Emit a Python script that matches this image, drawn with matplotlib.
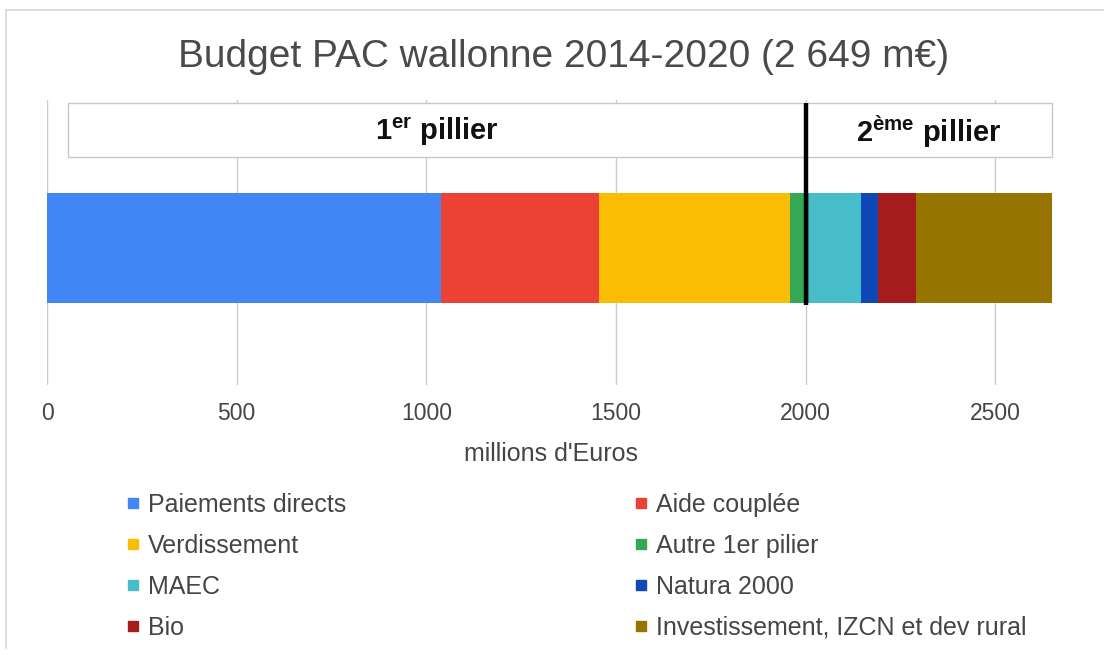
import matplotlib
matplotlib.use("Agg")
import matplotlib.pyplot as plt
from matplotlib.patches import Rectangle
from matplotlib.lines import Line2D

plt.rcParams['font.family'] = ['Liberation Sans', 'DejaVu Sans']
plt.rcParams['mathtext.fontset'] = 'custom'
plt.rcParams['mathtext.rm'] = 'Liberation Sans'
plt.rcParams['mathtext.bf'] = 'Liberation Sans:bold'

# budget per poste, millions d'euros
postes = ["Paiements directs", "Aide couplée", "Verdissement", "Autre 1er pilier",
          "MAEC", "Natura 2000", "Bio", "Investissement, IZCN et dev rural"]
valeurs = [1040, 415, 505, 50, 136, 44, 100, 359]
couleurs = ["#4285f4", "#ea4335", "#fbbc04", "#34a853",
            "#48bcc8", "#0d47b8", "#a61c1c", "#977300"]
ticks = [0, 500, 1000, 1500, 2000, 2500]
limite_pilier = 2000
piliers = [r"1$^{\mathbf{er}}$ pillier", r"2$^{\mathbf{ème}}$ pillier"]

txt = "#454545"

fig = plt.figure(figsize=(11.04, 6.55), dpi=100)
ax = fig.add_axes([47/1104, 1-385/655, 1009/1104, 285/655])

left = 0
for v, c, p in zip(valeurs, couleurs, postes):
    ax.barh(0.481, v, height=0.386, left=left, color=c, label=p, zorder=2)
    left += v

ax.set_xlim(0, 2660)
ax.set_ylim(0, 1)
ax.set_xticks(ticks)
ax.set_xticklabels([str(t) for t in ticks])
ax.set_yticks([])
ax.grid(axis='x', color='#cccccc', linewidth=1, zorder=0)
for s in ax.spines.values():
    s.set_visible(False)
ax.tick_params(axis='x', length=0, pad=12.5, labelsize=16.5, labelcolor=txt)
ax.set_xlabel("millions d'Euros", fontsize=18, color=txt, labelpad=12)

# boites des piliers
tr = ax.get_xaxis_transform()
x0 = (68 - 47) / 0.3794
x1 = (1052 - 47) / 0.3794
ax.add_patch(Rectangle((x0, 0.80), limite_pilier - x0, 0.19, transform=tr,
                       facecolor='white', edgecolor='#c8c8c8', lw=1, zorder=3))
ax.add_patch(Rectangle((limite_pilier, 0.80), x1 - limite_pilier, 0.19, transform=tr,
                       facecolor='white', edgecolor='#c8c8c8', lw=1, zorder=3))
ax.text((x0 + limite_pilier) / 2, 0.89, piliers[0], transform=tr, ha='center', va='center',
        fontsize=21, fontweight='bold', color='#111111', zorder=4)
ax.text((limite_pilier + x1) / 2, 0.89, piliers[1], transform=tr, ha='center', va='center',
        fontsize=21, fontweight='bold', color='#111111', zorder=4)
ax.plot([limite_pilier, limite_pilier], [0.281, 0.99], transform=tr, color='black',
        lw=3.2, zorder=5, solid_capstyle='butt')

fig.text(564/1104, 1-57/655, "Budget PAC wallonne 2014-2020 (2 649 m€)",
         ha='center', va='center', fontsize=28, color='#4a4a4a')

# legende en deux colonnes
def handles(idx):
    return [Line2D([], [], marker='s', linestyle='none', markersize=6.5,
                   markerfacecolor=couleurs[i], markeredgecolor=couleurs[i]) for i in idx]

for col, xpos in [(0, 125/1104), (1, 633/1104)]:
    idx = list(range(col, len(postes), 2))
    leg = fig.legend(handles(idx), [postes[i] for i in idx], loc='upper left',
                     bbox_to_anchor=(xpos, 1-493/655), frameon=False, fontsize=18,
                     handlelength=0.6, handletextpad=0.3, labelspacing=0.68,
                     borderaxespad=0, borderpad=0)
    for t in leg.get_texts():
        t.set_color(txt)

# cadre gris
fig.add_artist(Line2D([6/1104, 6/1104], [1-10/655, 1-648/655], transform=fig.transFigure,
                      color='#d6d6d6', lw=1.2))
fig.add_artist(Line2D([6/1104, 1], [1-10/655, 1-10/655], transform=fig.transFigure,
                      color='#d6d6d6', lw=1.2))

fig.savefig("out.png", dpi=100)
